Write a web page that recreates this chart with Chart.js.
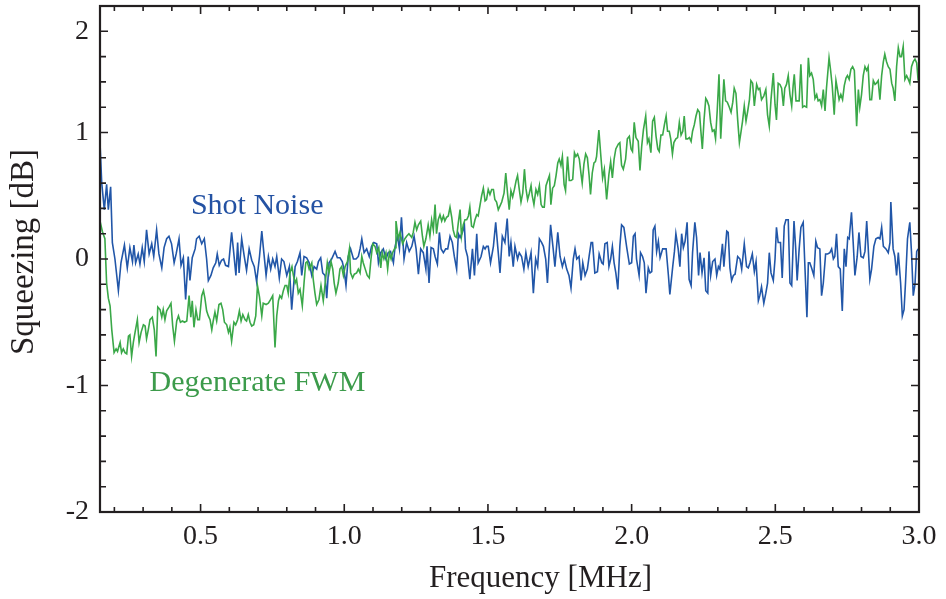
<!DOCTYPE html>
<html>
<head>
<meta charset="utf-8">
<script src="https://cdn.jsdelivr.net/npm/chart.js@4.4.1/dist/chart.umd.min.js"></script>
<style>
  html, body { margin: 0; padding: 0; background: #fff; }
  #wrap { width: 946px; height: 599px; }
</style>
</head>
<body>
<div id="wrap"><canvas id="chart" width="946" height="599"></canvas></div>
<script>
/* ── data ───────────────────────────────────────────────────────────── */
const shotFreq = [
  0.150,0.156,0.165,0.173,0.179,0.187,0.193,0.202,0.214,0.223,0.235,0.245,0.254,0.263,0.268,0.274,0.283,0.289,0.297,0.304,
  0.312,0.321,0.330,0.337,0.347,0.355,0.365,0.373,0.382,0.390,0.399,0.408,0.415,0.425,0.432,0.440,0.448,0.457,0.463,0.471,
  0.481,0.486,0.495,0.504,0.513,0.521,0.527,0.536,0.544,0.553,0.558,0.565,0.573,0.580,0.587,0.597,0.608,0.614,0.623,0.629,
  0.634,0.643,0.652,0.660,0.669,0.678,0.687,0.695,0.705,0.713,0.718,0.728,0.736,0.744,0.751,0.759,0.765,0.774,0.782,0.790,
  0.800,0.809,0.817,0.829,0.837,0.846,0.852,0.860,0.869,0.878,0.887,0.895,0.904,0.910,0.918,0.925,0.933,0.939,0.947,0.956,
  0.968,0.976,0.985,0.993,0.999,1.006,1.014,1.022,1.032,1.041,1.049,1.055,1.061,1.069,1.078,1.087,1.095,1.103,1.113,1.119,
  1.127,1.136,1.145,1.153,1.161,1.171,1.177,1.185,1.192,1.199,1.208,1.217,1.226,1.235,1.243,1.250,1.258,1.266,1.275,1.284,
  1.288,1.295,1.302,1.310,1.316,1.324,1.331,1.337,1.345,1.353,1.360,1.368,1.376,1.383,1.391,1.397,1.403,1.411,1.418,1.422,
  1.429,1.437,1.446,1.453,1.461,1.466,1.476,1.484,1.490,1.495,1.501,1.509,1.519,1.527,1.534,1.542,1.550,1.559,1.567,1.574,
  1.580,1.588,1.594,1.603,1.609,1.617,1.625,1.632,1.640,1.650,1.658,1.666,1.673,1.679,1.687,1.693,1.701,1.707,1.712,1.718,
  1.727,1.733,1.743,1.751,1.759,1.766,1.774,1.782,1.789,1.797,1.803,1.809,1.817,1.824,1.830,1.838,1.846,1.852,1.859,1.864,
  1.872,1.881,1.887,1.896,1.901,1.907,1.915,1.921,1.927,1.933,1.939,1.945,1.952,1.959,1.965,1.973,1.983,1.992,2.000,2.006,
  2.012,2.017,2.026,2.031,2.038,2.044,2.050,2.058,2.064,2.070,2.075,2.081,2.087,2.093,2.099,2.108,2.120,2.128,2.133,2.143,
  2.149,2.154,2.162,2.168,2.174,2.180,2.186,2.193,2.200,2.207,2.212,2.220,2.226,2.233,2.238,2.245,2.252,2.258,2.265,2.269,
  2.275,2.282,2.290,2.296,2.302,2.307,2.316,2.321,2.331,2.336,2.342,2.348,2.354,2.360,2.369,2.377,2.383,2.392,2.400,2.406,
  2.412,2.420,2.427,2.433,2.441,2.446,2.452,2.460,2.467,2.473,2.479,2.485,2.493,2.499,2.504,2.510,2.518,2.524,2.531,2.537,
  2.545,2.551,2.557,2.565,2.571,2.576,2.583,2.589,2.597,2.603,2.610,2.615,2.620,2.626,2.634,2.641,2.647,2.655,2.661,2.667,
  2.675,2.682,2.690,2.696,2.702,2.707,2.713,2.719,2.726,2.733,2.740,2.746,2.752,2.757,2.765,2.771,2.777,2.785,2.791,2.798,
  2.806,2.812,2.818,2.823,2.829,2.835,2.843,2.850,2.858,2.864,2.870,2.876,2.885,2.893,2.899,2.902,2.910,2.916,2.922,2.928,
  2.936,2.942,2.948,2.953,2.960,2.968,2.974,2.980,2.986,2.992,2.997
];
const shotDb = [
  0.92,0.60,0.39,0.59,0.39,0.57,0.13,0.00,-0.25,-0.03,0.11,-0.07,0.09,-0.02,0.11,-0.03,0.04,-0.04,0.09,-0.02,
  0.23,0.04,0.12,0.02,0.23,0.04,-0.07,0.09,0.16,0.18,0.12,-0.03,0.04,0.16,-0.05,0.01,-0.32,0.02,-0.17,0.01,
  0.08,0.16,0.18,0.12,0.16,0.00,-0.17,-0.13,-0.07,-0.03,0.04,-0.05,-0.01,0.00,-0.05,-0.06,0.21,0.08,-0.13,0.13,
  -0.11,0.16,0.02,-0.09,0.08,-0.01,-0.06,-0.18,0.02,0.22,0.10,-0.13,0.02,-0.08,0.00,-0.06,0.02,-0.15,0.00,-0.02,
  -0.13,-0.06,-0.40,-0.06,-0.02,0.05,-0.13,0.02,0.01,-0.03,-0.13,-0.06,-0.08,-0.02,0.01,-0.11,-0.13,-0.31,-0.03,0.00,
  0.06,0.01,0.01,-0.02,-0.08,-0.21,0.02,0.08,0.00,0.00,0.02,0.08,0.16,0.05,0.08,0.02,0.10,0.13,0.12,-0.03,
  0.05,0.08,0.00,0.05,0.06,-0.03,0.10,0.18,0.08,0.33,0.00,0.13,0.06,0.10,0.18,0.08,-0.12,0.08,0.05,-0.08,
  0.10,-0.19,0.09,0.08,0.02,-0.04,0.21,0.08,0.05,0.08,0.08,0.18,0.13,0.02,-0.08,0.20,0.17,0.21,0.27,0.08,
  0.02,-0.16,0.08,-0.13,0.20,-0.03,0.02,0.10,0.08,0.10,0.10,-0.03,0.10,0.29,0.10,-0.11,0.18,0.13,0.32,0.02,
  0.13,-0.06,0.10,0.00,0.05,0.02,-0.08,0.05,-0.06,0.05,-0.27,0.00,-0.06,0.16,0.13,0.10,0.00,-0.19,0.02,0.27,
  0.08,-0.06,0.21,0.02,-0.06,0.00,-0.08,-0.13,-0.23,0.00,0.08,0.00,0.02,-0.17,-0.03,-0.13,-0.08,0.02,0.13,0.13,
  -0.11,-0.10,0.04,-0.03,-0.04,0.12,0.13,-0.06,0.00,0.10,-0.03,-0.11,-0.24,0.10,0.27,0.25,0.09,-0.04,-0.03,0.18,
  0.20,0.00,-0.13,0.05,0.02,-0.03,-0.27,-0.07,-0.11,-0.10,0.23,0.26,0.06,0.14,0.01,0.08,0.08,-0.13,-0.28,-0.06,
  0.06,0.20,0.08,-0.06,0.20,0.09,0.14,0.29,-0.16,-0.21,0.05,0.29,0.17,-0.13,0.05,-0.11,0.01,-0.25,-0.27,0.06,
  -0.13,-0.02,0.00,-0.13,-0.06,-0.08,0.12,-0.06,0.22,0.21,-0.07,-0.17,-0.13,-0.12,0.02,0.00,-0.08,0.12,-0.06,-0.07,
  -0.03,0.04,-0.10,-0.02,-0.33,-0.29,-0.22,-0.35,-0.27,-0.19,0.05,-0.11,-0.17,0.00,0.25,0.13,0.13,-0.15,0.26,0.31,
  0.31,-0.19,-0.21,0.30,0.08,-0.17,0.08,0.25,0.29,-0.06,-0.46,-0.03,-0.03,-0.07,-0.13,0.14,0.09,0.08,-0.29,-0.19,
  0.04,0.04,0.05,0.08,0.00,0.02,0.20,-0.06,-0.08,-0.41,0.08,-0.06,0.17,0.16,0.37,0.13,-0.13,0.02,0.21,0.02,
  0.01,0.06,0.30,0.10,-0.16,-0.08,0.10,0.16,0.17,0.16,0.25,0.10,0.08,0.05,0.13,0.45,0.08,0.02,-0.13,0.05,
  -0.19,-0.45,-0.40,-0.19,0.16,0.29,0.05,-0.29,-0.20,0.06,0.08
];

const fwmFreq = [
  0.150,0.158,0.167,0.173,0.179,0.185,0.191,0.199,0.206,0.211,0.220,0.225,0.231,0.237,0.243,0.249,0.254,0.260,0.266,0.272,
  0.280,0.286,0.293,0.301,0.307,0.312,0.318,0.324,0.332,0.339,0.345,0.351,0.359,0.365,0.370,0.376,0.382,0.390,0.397,0.403,
  0.409,0.417,0.423,0.430,0.437,0.444,0.452,0.460,0.466,0.471,0.477,0.484,0.490,0.496,0.504,0.510,0.515,0.521,0.527,0.533,
  0.539,0.544,0.550,0.556,0.564,0.571,0.577,0.583,0.591,0.597,0.602,0.608,0.616,0.622,0.629,0.635,0.641,0.647,0.655,0.660,
  0.666,0.672,0.678,0.685,0.692,0.698,0.705,0.713,0.718,0.728,0.736,0.744,0.751,0.759,0.765,0.771,0.776,0.782,0.788,0.794,
  0.800,0.805,0.811,0.818,0.823,0.829,0.834,0.840,0.846,0.854,0.860,0.866,0.871,0.878,0.887,0.892,0.898,0.904,0.912,0.919,
  0.927,0.935,0.941,0.947,0.954,0.960,0.965,0.971,0.979,0.985,0.991,0.997,1.003,1.011,1.018,1.022,1.029,1.035,1.043,1.049,
  1.055,1.061,1.066,1.073,1.080,1.087,1.093,1.099,1.107,1.113,1.120,1.127,1.132,1.138,1.145,1.151,1.157,1.163,1.168,1.177,
  1.180,1.188,1.194,1.203,1.211,1.217,1.225,1.235,1.240,1.246,1.252,1.258,1.266,1.272,1.277,1.284,1.292,1.298,1.304,1.310,
  1.316,1.321,1.327,1.333,1.339,1.345,1.350,1.356,1.362,1.368,1.374,1.379,1.385,1.391,1.397,1.403,1.408,1.414,1.420,1.426,
  1.432,1.437,1.443,1.449,1.455,1.461,1.466,1.472,1.478,1.484,1.490,1.495,1.501,1.507,1.513,1.519,1.524,1.530,1.536,1.542,
  1.548,1.556,1.562,1.569,1.574,1.580,1.586,1.592,1.598,1.603,1.609,1.615,1.621,1.627,1.632,1.638,1.644,1.650,1.654,1.660,
  1.667,1.673,1.679,1.685,1.690,1.696,1.702,1.708,1.714,1.719,1.725,1.731,1.737,1.743,1.748,1.754,1.759,1.765,1.770,1.777,
  1.783,1.789,1.795,1.801,1.806,1.812,1.818,1.824,1.828,1.834,1.840,1.846,1.852,1.857,1.863,1.869,1.874,1.878,1.886,1.893,
  1.899,1.905,1.913,1.921,1.927,1.933,1.939,1.945,1.954,1.959,1.965,1.971,1.979,1.985,1.992,1.998,2.003,2.009,2.015,2.023,
  2.029,2.035,2.041,2.049,2.055,2.060,2.067,2.073,2.079,2.085,2.091,2.096,2.102,2.108,2.114,2.120,2.125,2.131,2.136,2.142,
  2.147,2.154,2.160,2.166,2.172,2.178,2.183,2.189,2.195,2.201,2.207,2.212,2.218,2.224,2.230,2.236,2.241,2.246,2.252,2.258,
  2.263,2.269,2.275,2.281,2.287,2.292,2.298,2.304,2.310,2.316,2.321,2.327,2.333,2.340,2.346,2.352,2.357,2.363,2.369,2.375,
  2.381,2.386,2.392,2.398,2.404,2.410,2.415,2.421,2.427,2.435,2.441,2.446,2.452,2.460,2.467,2.473,2.479,2.485,2.493,2.499,
  2.504,2.510,2.516,2.522,2.528,2.533,2.539,2.545,2.551,2.557,2.562,2.566,2.572,2.578,2.583,2.589,2.595,2.601,2.609,2.615,
  2.620,2.626,2.632,2.638,2.644,2.649,2.655,2.661,2.667,2.673,2.678,2.687,2.692,2.698,2.705,2.711,2.717,2.722,2.728,2.734,
  2.740,2.746,2.751,2.757,2.763,2.769,2.775,2.783,2.789,2.794,2.800,2.806,2.812,2.818,2.823,2.829,2.835,2.841,2.847,2.852,
  2.858,2.864,2.870,2.876,2.881,2.887,2.893,2.899,2.905,2.910,2.916,2.922,2.928,2.934,2.939,2.945,2.951,2.957,2.963,2.968,
  2.974,2.980,2.986,2.992,2.997
];
const fwmDb = [
  0.30,0.22,0.16,-0.19,-0.31,-0.37,-0.56,-0.74,-0.71,-0.73,-0.66,-0.74,-0.71,-0.74,-0.75,-0.61,-0.60,-0.77,-0.66,-0.58,
  -0.48,-0.66,-0.58,-0.52,-0.53,-0.63,-0.56,-0.48,-0.46,-0.56,-0.77,-0.38,-0.40,-0.46,-0.40,-0.48,-0.41,-0.38,-0.35,-0.53,
  -0.65,-0.49,-0.45,-0.50,-0.49,-0.50,-0.49,-0.29,-0.46,-0.33,-0.54,-0.40,-0.48,-0.48,-0.29,-0.25,-0.31,-0.41,-0.45,-0.48,
  -0.56,-0.49,-0.42,-0.49,-0.36,-0.35,-0.40,-0.50,-0.52,-0.58,-0.54,-0.65,-0.50,-0.52,-0.48,-0.41,-0.49,-0.44,-0.48,-0.49,
  -0.44,-0.50,-0.53,-0.52,-0.45,-0.21,-0.30,-0.45,-0.35,-0.36,-0.35,-0.32,-0.29,-0.70,-0.45,-0.33,-0.29,-0.31,-0.25,-0.21,
  -0.21,-0.27,-0.11,-0.06,-0.13,-0.19,-0.16,-0.27,-0.24,-0.37,-0.19,-0.03,-0.02,-0.08,-0.03,-0.16,-0.27,-0.36,-0.32,-0.21,
  -0.33,-0.16,-0.03,-0.11,-0.02,-0.08,-0.19,-0.27,-0.19,-0.08,-0.06,-0.13,-0.06,-0.02,0.08,-0.11,-0.15,-0.12,-0.11,-0.08,
  -0.11,0.02,-0.03,-0.08,-0.13,-0.15,0.00,0.12,0.10,0.05,0.09,-0.07,0.05,0.00,0.05,-0.08,0.05,0.00,0.05,0.09,
  0.30,0.16,0.21,0.12,0.16,0.18,0.20,0.17,0.21,0.29,0.23,0.27,0.30,0.18,0.10,0.16,0.27,0.18,0.31,0.23,
  0.43,0.20,0.31,0.35,0.30,0.34,0.30,0.33,0.34,0.41,0.33,0.23,0.18,0.17,0.29,0.39,0.18,0.27,0.31,0.31,
  0.34,0.41,0.26,0.25,0.31,0.35,0.34,0.42,0.50,0.56,0.46,0.47,0.55,0.51,0.55,0.55,0.47,0.45,0.39,0.42,
  0.45,0.52,0.68,0.50,0.39,0.54,0.49,0.55,0.62,0.66,0.55,0.45,0.52,0.71,0.56,0.47,0.52,0.58,0.50,0.43,
  0.55,0.51,0.58,0.43,0.41,0.41,0.58,0.62,0.66,0.43,0.56,0.58,0.66,0.76,0.79,0.74,0.81,0.59,0.54,0.81,
  0.62,0.62,0.63,0.84,0.81,0.83,0.79,0.67,0.60,0.75,0.83,0.80,0.66,0.51,0.68,0.76,0.77,0.81,1.02,0.81,
  0.64,0.71,0.47,0.67,0.77,0.64,0.79,0.87,0.91,0.92,0.74,0.71,0.79,0.95,0.97,0.87,0.85,1.08,0.96,0.93,
  0.70,0.89,1.02,1.13,0.92,0.95,0.84,1.09,1.12,0.97,0.87,0.85,0.98,0.98,1.06,1.13,1.01,1.01,0.95,0.83,
  0.92,0.95,0.96,1.08,0.98,1.01,1.13,0.95,0.95,0.96,0.93,1.01,1.06,1.13,1.18,1.16,1.01,0.87,1.10,1.27,
  1.25,1.21,1.08,1.01,1.02,0.95,1.18,1.46,0.95,1.21,1.42,1.25,1.24,1.20,1.16,1.24,1.35,1.31,1.10,0.92,
  1.01,1.09,1.21,1.09,1.17,1.26,1.41,1.39,1.21,1.38,1.34,1.35,1.26,1.29,1.34,1.14,1.05,1.26,1.47,1.22,
  1.10,1.39,1.38,1.35,1.21,1.35,1.38,1.45,1.30,1.21,1.37,1.46,1.25,1.25,1.25,1.54,1.20,1.21,1.20,1.59,
  1.45,1.47,1.42,1.27,1.30,1.25,1.26,1.21,1.34,1.17,1.35,1.59,1.50,1.37,1.14,1.41,1.33,1.26,1.30,1.26,
  1.37,1.43,1.45,1.42,1.50,1.52,1.49,1.05,1.34,1.20,1.30,1.45,1.52,1.49,1.52,1.26,1.26,1.41,1.38,1.39,
  1.41,1.26,1.45,1.56,1.62,1.56,1.52,1.50,1.39,1.35,1.25,1.52,1.67,1.60,1.60,1.68,1.42,1.45,1.42,1.39,
  1.52,1.56,1.58,1.55,1.41
];

// axes: ticks every 0.1 MHz / 0.2 dB, labels only on some of them
const xTickValues = [0.2,0.3,0.4,0.5,0.6,0.7,0.8,0.9,1.0,1.1,1.2,1.3,1.4,1.5,1.6,1.7,1.8,1.9,
                     2.0,2.1,2.2,2.3,2.4,2.5,2.6,2.7,2.8,2.9,3.0];
const xLabelValues = [0.5,1.0,1.5,2.0,2.5,3.0];
const yTickValues = [-2,-1.8,-1.6,-1.4,-1.2,-1,-0.8,-0.6,-0.4,-0.2,0,0.2,0.4,0.6,0.8,1,1.2,1.4,1.6,1.8,2];
const yLabelValues = [-2,-1,0,1,1.8];
const yLabelText   = ['-2','-1','0','1','2'];

const xTitle = 'Frequency [MHz]';
const yTitle = 'Squeezing [dB]';
const shotLabel = 'Shot Noise';
const fwmLabel = 'Degenerate FWM';

/* ── look ───────────────────────────────────────────────────────────── */
const FONT = "'Liberation Serif', 'Times New Roman', 'DejaVu Serif', serif";
const INK = '#231f20';
const BLUE = '#2156a8';
const GREEN = '#3aa848';

const near = (a, b) => Math.abs(a - b) < 1e-6;

/* ── frame, inward ticks, titles and curve labels ───────────────────── */
const frameTicks = {
  id: 'frameTicks',
  afterDatasetsDraw(chart) {
    const { ctx, chartArea: a, scales: { x, y } } = chart;
    ctx.save();
    ctx.strokeStyle = INK;
    ctx.lineWidth = 1.6;
    ctx.beginPath();
    xTickValues.forEach(v => {
      const px = x.getPixelForValue(v);
      const len = xLabelValues.some(m => near(m, v)) ? 8 : 5;
      ctx.moveTo(px, a.bottom); ctx.lineTo(px, a.bottom - len);
      ctx.moveTo(px, a.top);    ctx.lineTo(px, a.top + len);
    });
    yTickValues.forEach(v => {
      const py = y.getPixelForValue(v);
      const len = yLabelValues.some(m => near(m, v)) ? 8 : 6;
      ctx.moveTo(a.left, py);  ctx.lineTo(a.left + len, py);
      ctx.moveTo(a.right, py); ctx.lineTo(a.right - len, py);
    });
    ctx.stroke();
    ctx.lineWidth = 2.2;
    ctx.strokeRect(a.left, a.top, a.right - a.left, a.bottom - a.top);

    // curve labels, placed in data coordinates
    ctx.font = `30px ${FONT}`;
    ctx.textAlign = 'center';
    ctx.textBaseline = 'middle';
    ctx.fillStyle = '#2452a3';
    ctx.fillText(shotLabel, x.getPixelForValue(0.697), y.getPixelForValue(0.42));
    ctx.fillStyle = '#3c9b4b';
    ctx.fillText(fwmLabel, x.getPixelForValue(0.698), y.getPixelForValue(-0.98));

    // axis titles
    ctx.fillStyle = INK;
    ctx.font = `31px ${FONT}`;
    ctx.fillText(xTitle, (a.left + a.right) / 2 + 31, 579);
    ctx.font = `33px ${FONT}`;
    ctx.translate(24, (a.top + a.bottom) / 2 - 7);
    ctx.rotate(-Math.PI / 2);
    ctx.fillText(yTitle, 0, 0);
    ctx.restore();
  }
};

/* ── chart ──────────────────────────────────────────────────────────── */
const toPoints = (xs, ys) => xs.map((f, i) => ({ x: f, y: ys[i] }));

new Chart(document.getElementById('chart'), {
  type: 'line',
  data: {
    datasets: [
      { label: fwmLabel, data: toPoints(fwmFreq, fwmDb), borderColor: GREEN, borderWidth: 1.6,
        pointRadius: 0, tension: 0, fill: false },
      { label: shotLabel, data: toPoints(shotFreq, shotDb), borderColor: BLUE, borderWidth: 1.6,
        pointRadius: 0, tension: 0, fill: false }
    ]
  },
  options: {
    responsive: false,
    animation: false,
    devicePixelRatio: 1,
    layout: { autoPadding: false, padding: { top: 6, right: 27, left: 0, bottom: 0 } },
    plugins: { legend: { display: false }, tooltip: { enabled: false } },
    scales: {
      x: {
        type: 'linear',
        min: 0.15, max: 3.0,
        grid: { display: false, drawTicks: false },
        border: { display: false },
        afterBuildTicks: s => { s.ticks = xTickValues.map(v => ({ value: v })); },
        afterFit: s => { s.height = 87; s.paddingLeft = 0; s.paddingRight = 0; },
        ticks: {
          autoSkip: false, maxRotation: 0, padding: 8,
          color: INK, font: { family: FONT, size: 28 },
          callback: v => xLabelValues.some(m => near(m, v)) ? v.toFixed(1) : ''
        }
      },
      y: {
        type: 'linear',
        min: -2, max: 2,
        grid: { display: false, drawTicks: false },
        border: { display: false },
        afterBuildTicks: s => { s.ticks = yTickValues.map(v => ({ value: v })); },
        afterFit: s => { s.width = 100; s.paddingTop = 0; s.paddingBottom = 0; },
        ticks: {
          autoSkip: false, padding: 11,
          color: INK, font: { family: FONT, size: 28 },
          callback: v => {
            const i = yLabelValues.findIndex(m => near(m, v));
            return i >= 0 ? yLabelText[i] : '';
          }
        }
      }
    }
  },
  plugins: [frameTicks]
});
</script>
</body>
</html>
